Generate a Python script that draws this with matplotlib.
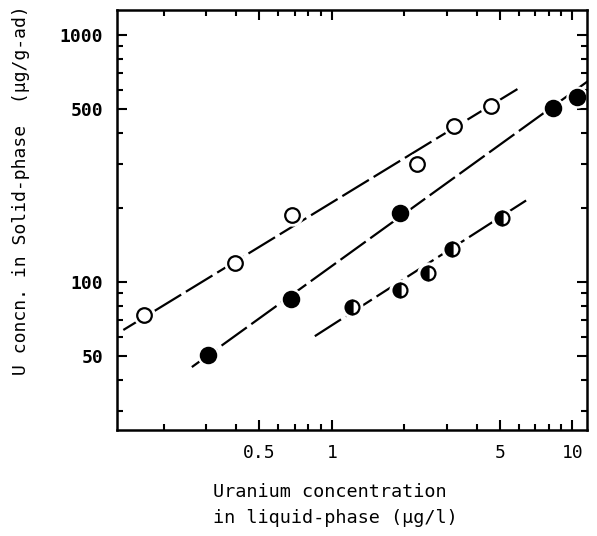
import matplotlib
matplotlib.use("Agg")
import matplotlib.pyplot as plt
from matplotlib.ticker import FixedLocator, NullFormatter, FixedFormatter

# Open circles
open_x = [0.166, 0.396, 0.682, 2.25, 3.21, 4.57]
open_y = [73.5, 119, 187, 300, 428, 516]
# Filled circles
fill_x = [0.306, 0.676, 1.915, 8.34, 10.5]
fill_y = [50.6, 85.3, 190, 506, 561]
# Half-filled circles
half_x = [1.21, 1.92, 2.50, 3.15, 5.08]
half_y = [79.3, 92.8, 108.8, 136, 182]

# Fitted lines (end points)
line_open_x = [0.136, 5.91]
line_open_y = [64, 604]
line_fill_x = [0.262, 11.8]
line_fill_y = [45.3, 658]
line_half_x = [0.85, 6.57]
line_half_y = [60.4, 217]

x_major = [0.5, 1, 5, 10]
x_major_labels = ["0.5", "1", "5", "10"]
x_minor = [0.2, 0.3, 0.4, 0.6, 0.7, 0.8, 0.9, 2, 3, 4, 6, 7, 8, 9]
y_major = [50, 100, 500, 1000]
y_major_labels = ["50", "100", "500", "1000"]
y_minor = [30, 40, 60, 70, 80, 90, 200, 300, 400, 600, 700, 800, 900]

mono = "DejaVu Sans Mono"

fig = plt.figure(figsize=(5.97, 5.36), dpi=100)
ax = fig.add_axes([117 / 597, 1 - 430 / 536, (587 - 117) / 597, (430 - 10) / 536])
ax.set_xscale("log")
ax.set_yscale("log")
ax.set_xlim(0.128, 11.5)
ax.set_ylim(25.2, 1262)

dash = (14, 2.5)
for lx, ly in [(line_open_x, line_open_y), (line_fill_x, line_fill_y), (line_half_x, line_half_y)]:
    ax.plot(lx, ly, color="black", lw=1.6, dashes=dash, zorder=2)

# white halos leave a small gap between the lines and the markers
for xs, ys in [(open_x, open_y), (fill_x, fill_y), (half_x, half_y)]:
    ax.plot(xs, ys, "o", ms=15, mfc="white", mec="white", zorder=3, clip_on=False)

ax.plot(open_x, open_y, "o", ms=10.5, mfc="white", mec="black", mew=1.6, zorder=4,
        clip_on=False)
ax.plot(fill_x, fill_y, "o", ms=11, mfc="black", mec="black", mew=1.6, zorder=4,
        clip_on=False)
ax.plot(half_x, half_y, "o", ms=10, fillstyle="left", mfc="black", mfcalt="white",
        mec="black", mew=1.6, zorder=4, clip_on=False)

for s in ax.spines.values():
    s.set_linewidth(1.8)
    s.set_zorder(5)

ax.xaxis.set_major_locator(FixedLocator(x_major))
ax.xaxis.set_major_formatter(FixedFormatter(x_major_labels))
ax.xaxis.set_minor_locator(FixedLocator(x_minor))
ax.xaxis.set_minor_formatter(NullFormatter())
ax.yaxis.set_major_locator(FixedLocator(y_major))
ax.yaxis.set_major_formatter(FixedFormatter(y_major_labels))
ax.yaxis.set_minor_locator(FixedLocator(y_minor))
ax.yaxis.set_minor_formatter(NullFormatter())

ax.tick_params(which="both", direction="in", top=True, right=True, width=1.5)
ax.tick_params(which="major", length=7, pad=10, labelsize=13)
ax.tick_params(which="minor", length=4)
for lab in ax.get_xticklabels():
    lab.set_family(mono)
for lab in ax.get_yticklabels():
    lab.set_family(mono)
    lab.set_fontweight("bold")

fig.text(330 / 597, 1 - 497 / 536, "Uranium concentration", family=mono, fontsize=13.3,
         ha="center", va="baseline")
fig.text(335 / 597, 1 - 523 / 536, "in liquid-phase (\u03bcg/l)", family=mono, fontsize=13.3,
         ha="center", va="baseline")
fig.text(21 / 597, 1 - 190 / 536, "U concn. in Solid-phase  (\u03bcg/g-ad)", family=mono,
         fontsize=13, rotation=90, ha="center", va="center")

fig.savefig("out.png", dpi=100)
